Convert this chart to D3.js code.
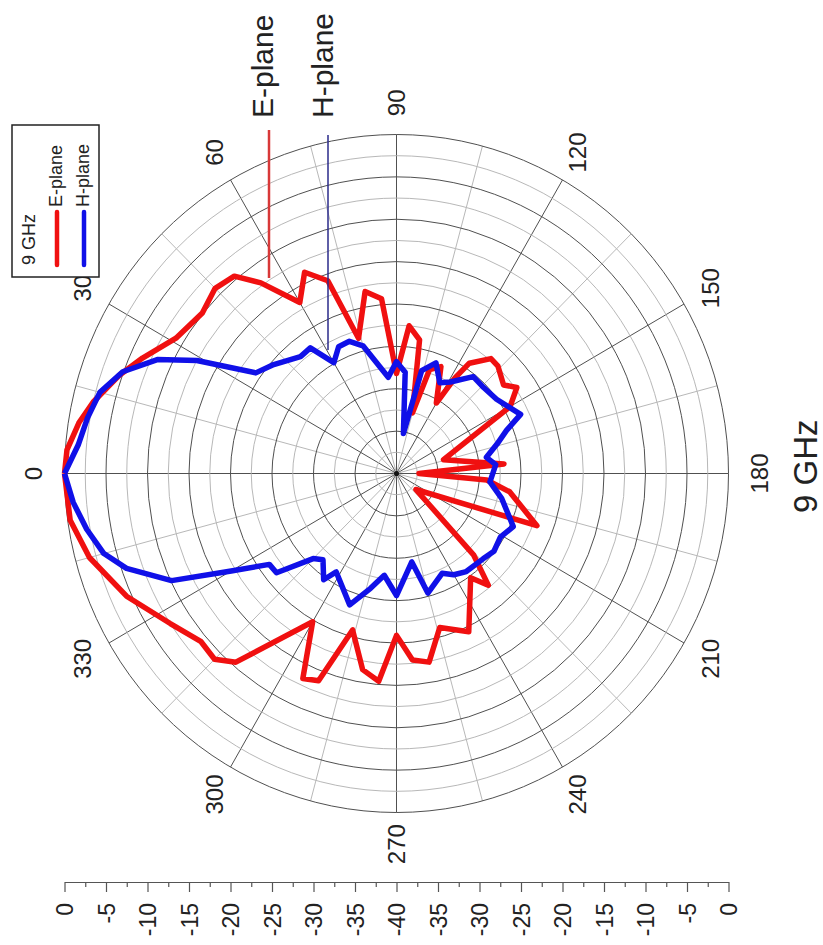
<!DOCTYPE html>
<html>
<head>
<meta charset="utf-8">
<script src="https://cdn.jsdelivr.net/npm/d3@7"></script>
<style>
  body { margin: 0; background: #fff; }
  text { font-family: "Liberation Sans", Arial, sans-serif; fill: #222; }
</style>
</head>
<body>
<svg id="chart"></svg>
<script>
const width = 823;
const height = 945;
const cx = 396.5;
const cy = 473.5;
const radius = 332;
const stretchY = 339 / 332;   // the scanned figure is a bit taller than wide

const darkGrid = '#505050';
const lightGrid = '#b8b8b8';
const redColor = '#f01010';
const blueColor = '#1010e8';

// data (angle in degrees, level in dB)
const angleLabels = [0, 30, 60, 90, 120, 150, 180, 210, 240, 270, 300, 330];
const dbTicks = [0, -5, -10, -15, -20, -25, -30, -35, -40];
const dbMinorTicks = [-2.5, -7.5, -12.5, -17.5, -22.5, -27.5, -32.5, -37.5];

const eAngles = [0, 4, 9, 13, 19, 24, 31, 39, 45, 50, 54, 60, 65, 70, 74, 80, 85, 90, 95, 100,
  105, 108, 113, 120, 122, 124, 130, 134, 141, 145, 150, 164, 175, 180, 184, 189, 200, 219, 226, 230,
  234, 245, 254, 260, 265, 270, 275, 280, 286, 291, 295, 300, 311, 315, 320, 327, 336, 345, 352, 360];
const eValues = [0, -0.2, -1.3, -2.5, -4.6, -6.5, -9.0, -9.9, -9.1, -9.6, -12.2, -16.7, -13.8, -15.8, -23.4, -18.2, -19.3, -28.2, -22.5, -24.0,
  -32.6, -27.1, -26.3, -30.4, -26.7, -24.3, -22.3, -22.4, -23.4, -22.3, -24.2, -34.1, -27.0, -37.3, -29.1, -26.2, -22.0, -37.0, -26.6, -22.8,
  -24.8, -19.4, -21.1, -17.4, -17.9, -20.9, -15.4, -16.5, -20.8, -13.8, -13.3, -19.8, -10.5, -9.0, -9.2, -7.5, -4.4, -1.7, -0.3, 0];

const hAngles = [0, 5, 10, 15, 20, 25, 29, 35, 41, 50, 55, 60, 65, 70, 75, 85, 90, 95, 100, 104,
  110, 116, 121, 129, 136, 144, 155, 159, 164, 170, 175, 180, 185, 193, 204, 211, 218, 224, 234, 240,
  245, 255, 260, 270, 277, 283, 290, 302, 305, 311, 315, 321, 325, 330, 335, 341, 345, 350, 355, 360];
const hValues = [0, -1.5, -2.2, -3.0, -4.9, -8.2, -12.5, -19.3, -20.4, -22.0, -21.9, -24.9, -23.5, -23.4, -24.4, -28.6, -26.8, -28.0, -35.2, -27.5,
  -26.1, -28.1, -27.4, -25.3, -25.4, -25.1, -23.5, -25.8, -27.4, -29.0, -28.0, -28.4, -28.7, -27.0, -24.6, -25.4, -25.1, -25.5, -25.7, -26.2,
  -27.0, -25.4, -29.4, -25.6, -27.9, -26.1, -23.5, -26.3, -24.7, -26.5, -25.8, -21.4, -21.3, -17.0, -10.1, -5.6, -3.5, -2.1, -0.9, 0];

const ringLevels = d3.range(-37.5, 0.01, 2.5);
const spokeAngles = d3.range(0, 360, 15);

const svg = d3.select('#chart')
  .attr('width', width)
  .attr('height', height);

const r = d3.scaleLinear().domain([-40, 0]).range([0, radius]);
const rad = deg => (deg - 90) * Math.PI / 180;

const polar = svg.append('g')
  .attr('transform', `translate(${cx},${cy}) scale(1,${stretchY})`);

// grid
polar.selectAll('line.spoke').data(spokeAngles).enter().append('line')
  .attr('class', 'spoke')
  .attr('x1', 0).attr('y1', 0)
  .attr('x2', d => r(0) * Math.sin(rad(d)))
  .attr('y2', d => -r(0) * Math.cos(rad(d)))
  .attr('stroke', d => d % 30 === 0 ? darkGrid : lightGrid)
  .attr('stroke-width', 1)
  .attr('vector-effect', 'non-scaling-stroke');

polar.selectAll('circle.ring').data(ringLevels).enter().append('circle')
  .attr('class', 'ring')
  .attr('r', d => r(d))
  .attr('fill', 'none')
  .attr('stroke', d => d % 5 === 0 ? darkGrid : lightGrid)
  .attr('stroke-width', 1)
  .attr('vector-effect', 'non-scaling-stroke');

polar.append('circle').attr('r', 2.5).attr('fill', '#111');

// traces
const radial = d3.lineRadial()
  .angle(d => rad(d[0]))
  .radius(d => r(d[1]));

const series = [
  { name: 'E-plane', color: redColor, pts: d3.zip(eAngles, eValues) },
  { name: 'H-plane', color: blueColor, pts: d3.zip(hAngles, hValues) }
];

polar.selectAll('path.trace').data(series).enter().append('path')
  .attr('class', 'trace')
  .attr('d', d => radial(d.pts))
  .attr('fill', 'none')
  .attr('stroke', d => d.color)
  .attr('stroke-width', 5.5)
  .attr('stroke-linejoin', 'round')
  .attr('vector-effect', 'non-scaling-stroke');

// angle labels
const labelR = 363;
svg.selectAll('text.angle').data(angleLabels).enter().append('text')
  .attr('class', 'angle')
  .attr('transform', d => {
    const t = d * Math.PI / 180;
    const x = cx - labelR * Math.cos(t);
    const y = cy - labelR * stretchY * Math.sin(t);
    return `translate(${x},${y}) rotate(-90)`;
  })
  .attr('text-anchor', 'middle')
  .attr('dy', '0.35em')
  .style('font-size', '24px')
  .text(d => d);

// folded dB axis below the plot
const axisY = 882;
const xLeft = d3.scaleLinear().domain([0, -40]).range([cx - radius, cx]);
const xRight = d3.scaleLinear().domain([-40, 0]).range([cx, cx + radius]);

function drawAxis(scale, major) {
  const g = svg.append('g').attr('transform', `translate(0,${axisY})`);
  g.call(d3.axisBottom(scale).tickValues(dbMinorTicks).tickSize(5).tickSizeOuter(0).tickFormat(''));
  const gm = svg.append('g').attr('transform', `translate(0,${axisY})`);
  gm.call(d3.axisBottom(scale).tickValues(major).tickSize(10).tickSizeOuter(0).tickFormat(d => String(d)));
  [g, gm].forEach(a => {
    a.selectAll('path, line').attr('stroke', '#555').attr('stroke-width', 1.2);
  });
  gm.selectAll('text')
    .attr('transform', 'rotate(-90)')
    .attr('x', -21)
    .attr('y', 0)
    .attr('dy', '0.35em')
    .style('text-anchor', 'end')
    .style('font-size', '23px')
    .style('font-family', '"Liberation Sans", Arial, sans-serif')
    .attr('fill', '#222');
}
drawAxis(xLeft, dbTicks);
drawAxis(xRight, dbTicks.filter(d => d !== -40));

// leader lines and plane names
svg.append('line')
  .attr('x1', 269).attr('x2', 269).attr('y1', 130).attr('y2', 278)
  .attr('stroke', '#d83838').attr('stroke-width', 2.5);
svg.append('line')
  .attr('x1', 328).attr('x2', 328).attr('y1', 135).attr('y2', 350)
  .attr('stroke', '#2a2a8a').attr('stroke-width', 1.5);

svg.append('text')
  .attr('transform', 'translate(273,118) rotate(-90)')
  .style('font-size', '30px')
  .text('E-plane');
svg.append('text')
  .attr('transform', 'translate(333,118) rotate(-90)')
  .style('font-size', '30px')
  .text('H-plane');

svg.append('text')
  .attr('transform', 'translate(817,513) rotate(-90)')
  .style('font-size', '33px')
  .text('9 GHz');

// legend
const legend = svg.append('g');
legend.append('rect')
  .attr('x', 12).attr('y', 125).attr('width', 87).attr('height', 152)
  .attr('fill', '#fff').attr('stroke', '#222').attr('stroke-width', 1.5);
legend.append('text')
  .attr('transform', 'translate(35,265) rotate(-90)')
  .style('font-size', '18px')
  .text('9 GHz');
series.forEach((s, i) => {
  const x = 57 + i * 27;
  legend.append('line')
    .attr('x1', x).attr('x2', x).attr('y1', 265).attr('y2', 212)
    .attr('stroke', s.color).attr('stroke-width', 4.5).attr('stroke-linecap', 'round');
  legend.append('text')
    .attr('transform', `translate(${x + 5},207) rotate(-90)`)
    .style('font-size', '18px')
    .text(s.name);
});
</script>
</body>
</html>
